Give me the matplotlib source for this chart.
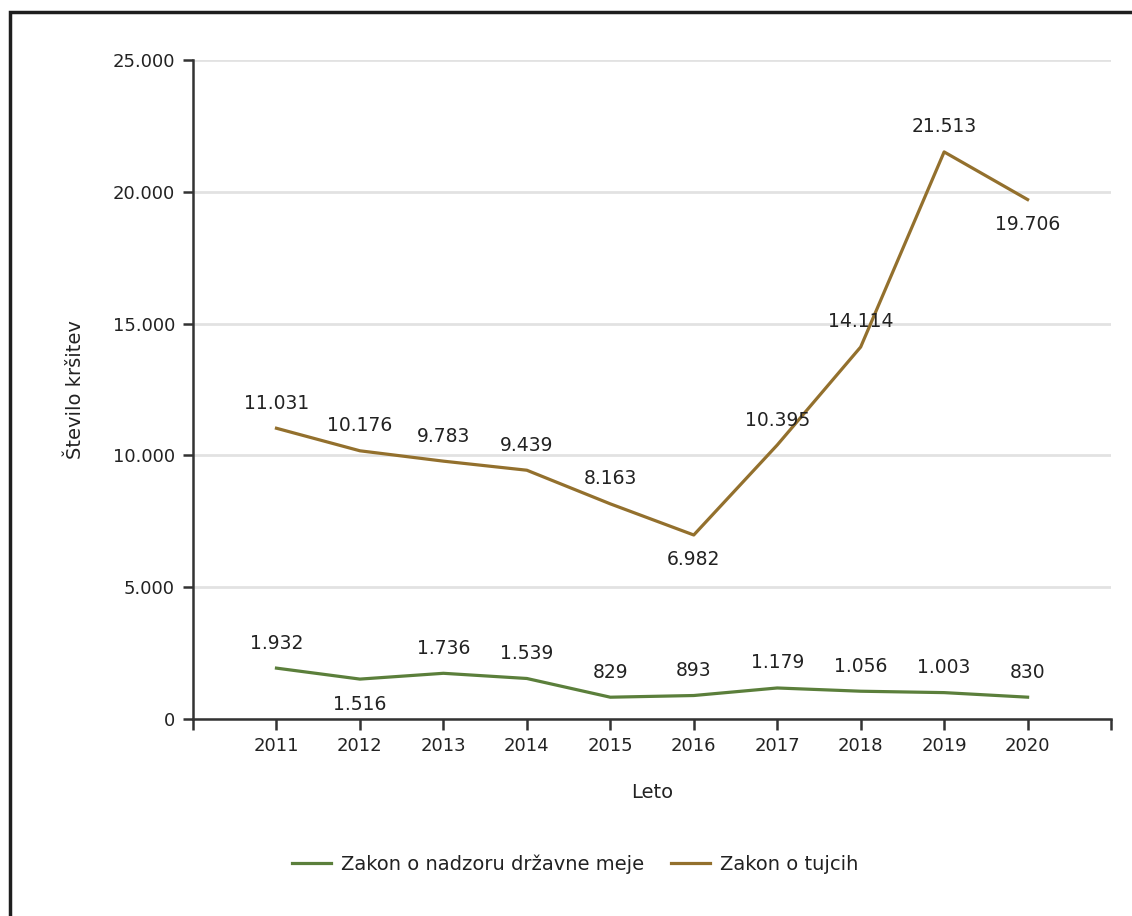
import matplotlib
matplotlib.use("Agg")
import matplotlib.pyplot as plt
import matplotlib.ticker as tkr
from matplotlib.patches import Rectangle

# data
years = [2011, 2012, 2013, 2014, 2015, 2016, 2017, 2018, 2019, 2020]
meja = [1932, 1516, 1736, 1539, 829, 893, 1179, 1056, 1003, 830]
tujci = [11031, 10176, 9783, 9439, 8163, 6982, 10395, 14114, 21513, 19706]
# label placement: 1 above the point, -1 below
meja_pos = [1, -1, 1, 1, 1, 1, 1, 1, 1, 1]
tujci_pos = [1, 1, 1, 1, 1, -1, 1, 1, 1, -1]

green = "#5b7f3b"
brown = "#93702d"
text_col = "#222222"

plt.rcParams['font.family'] = ['DejaVu Sans']


def fmt(v):
    return format(int(v), ',').replace(',', '.')


fig = plt.figure(figsize=(11.32, 9.16), dpi=100)
ax = fig.add_axes([0.1705, 0.215, 0.811, 0.7195])

ax.plot(years, meja, color=green, lw=2.3, label="Zakon o nadzoru državne meje")
ax.plot(years, tujci, color=brown, lw=2.3, label="Zakon o tujcih")

for x, y, p in zip(years, meja, meja_pos):
    ax.annotate(fmt(y), (x, y), xytext=(0, 18 * p), textcoords="offset points",
                ha="center", va="center", fontsize=13.5, color=text_col)
for x, y, p in zip(years, tujci, tujci_pos):
    ax.annotate(fmt(y), (x, y), xytext=(0, 18 * p), textcoords="offset points",
                ha="center", va="center", fontsize=13.5, color=text_col)

ax.set_xlim(2010, 2021)
ax.set_ylim(0, 25000)
ax.set_xticks(range(2010, 2022))
ax.set_xticklabels([""] + [str(y) for y in years] + [""])
ax.set_yticks(range(0, 25001, 5000))
ax.get_yaxis().set_major_formatter(tkr.FuncFormatter(lambda x, p: fmt(x)))

ax.grid(axis="y", color="#e2e2e2", lw=2)
ax.set_axisbelow(True)
for s in ["top", "right"]:
    ax.spines[s].set_visible(False)
for s in ["left", "bottom"]:
    ax.spines[s].set_color("#333333")
    ax.spines[s].set_linewidth(1.8)
ax.tick_params(axis="x", length=8, width=1.8, color="#333333", labelsize=13,
               labelcolor=text_col, pad=5)
ax.tick_params(axis="y", length=7, width=1.8, color="#333333", labelsize=13,
               labelcolor=text_col, pad=6)

ax.set_xlabel("Leto", fontsize=14, color=text_col, labelpad=20)
ax.set_ylabel("Število kršitev", fontsize=14, color=text_col, labelpad=20)

fig.legend(loc="center", bbox_to_anchor=(0.508, 0.057), ncol=2, frameon=False,
           fontsize=14, handlelength=2.0, handletextpad=0.5, columnspacing=1.4,
           labelcolor=text_col)

# outer frame, open on the right and bottom
fig.patches.append(Rectangle((10 / 1132, -0.1), 1.2, 1 - 12 / 916 + 0.1,
                             transform=fig.transFigure, fill=False,
                             edgecolor="#1e1e1e", lw=2.5, clip_on=False))

plt.savefig("out.png", dpi=100)
plt.close()
